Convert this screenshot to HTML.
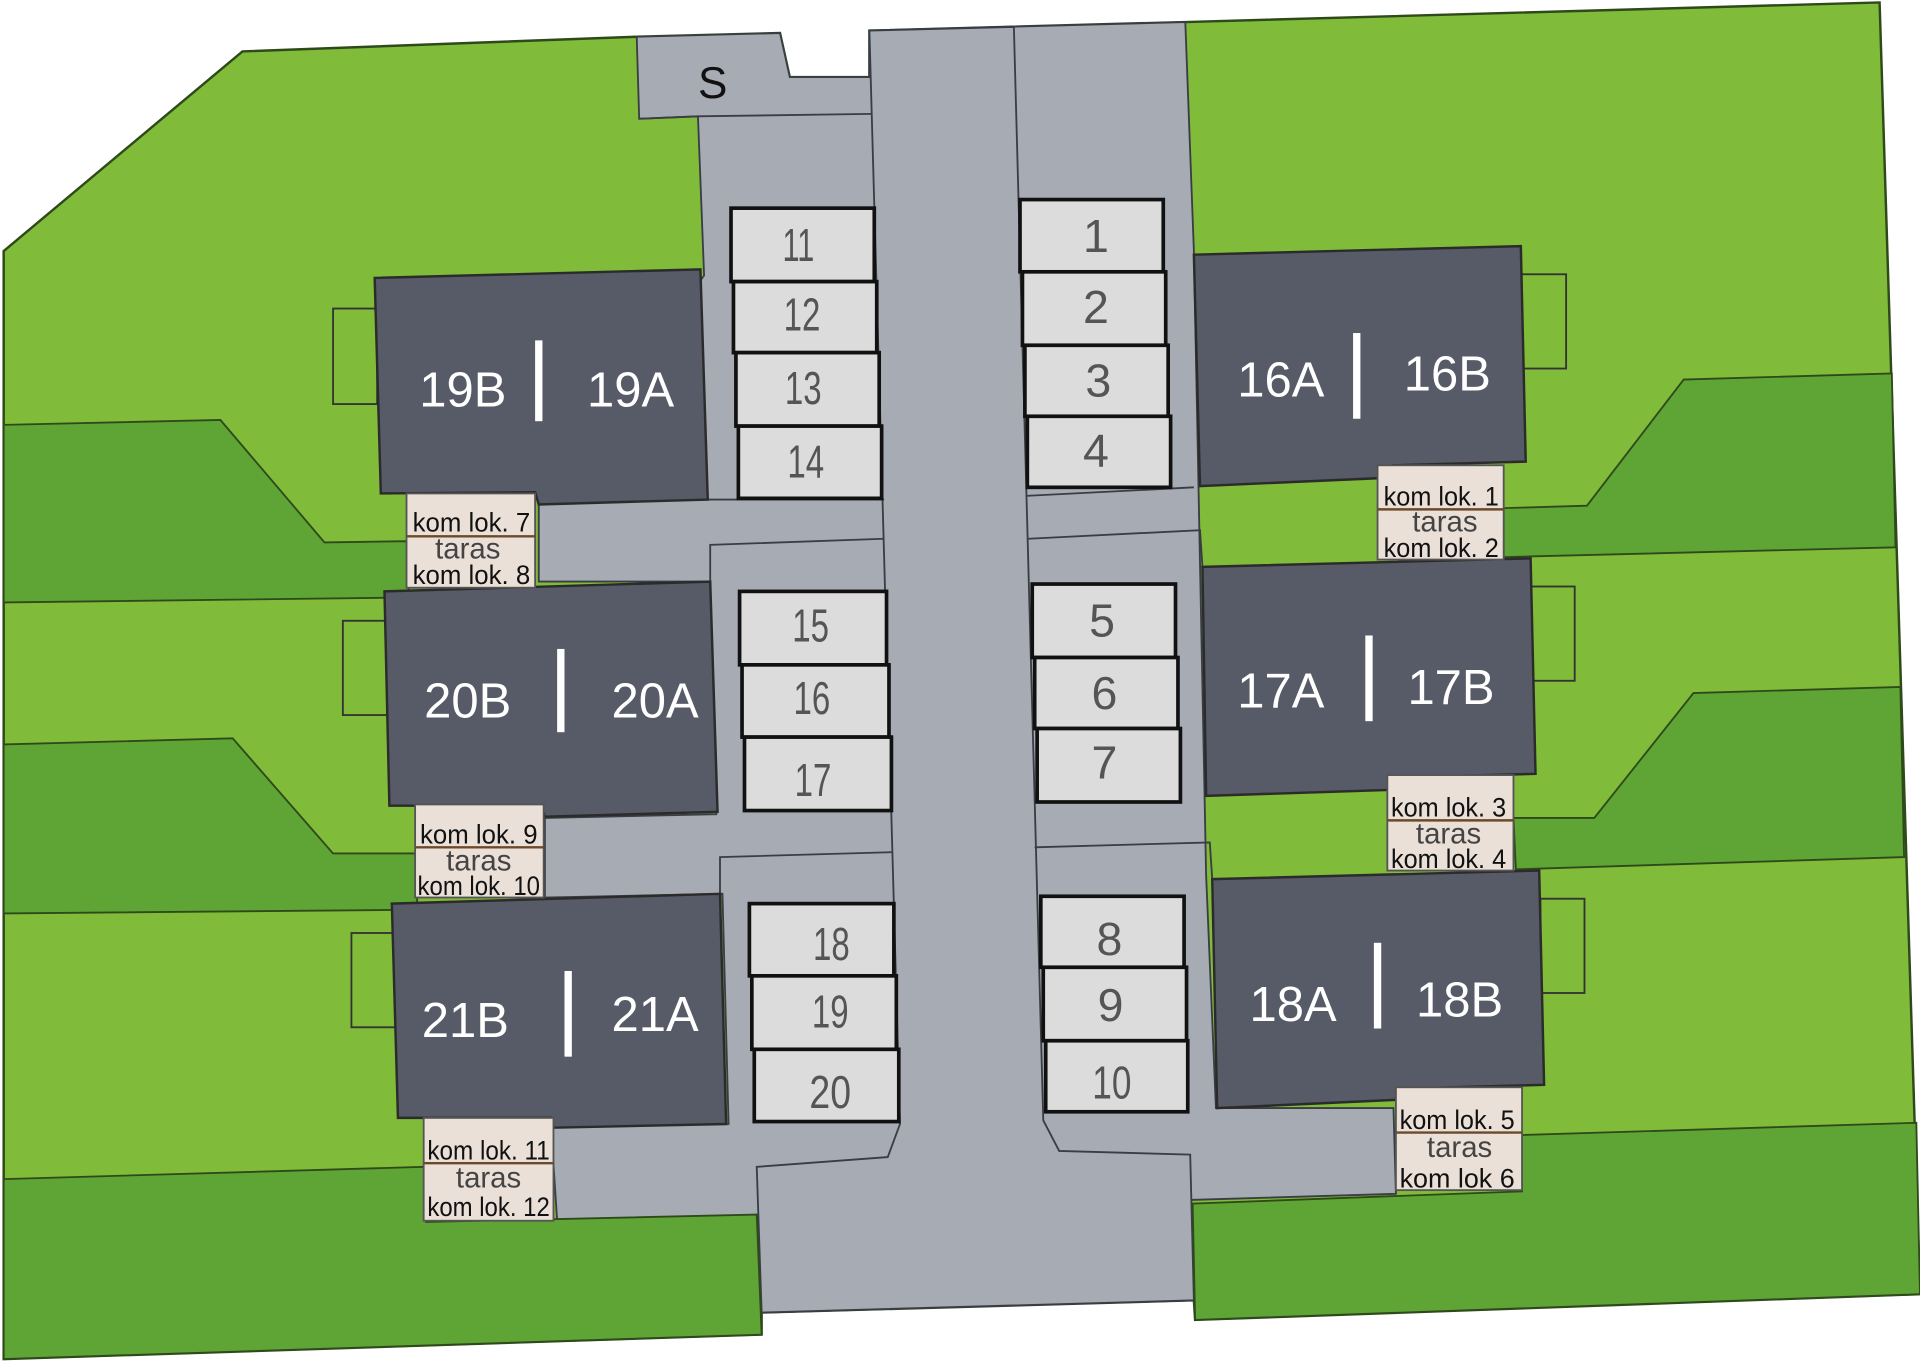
<!DOCTYPE html>
<html><head><meta charset="utf-8"><style>
html,body{margin:0;padding:0;background:#fff;}
svg{display:block;}
text{font-family:"Liberation Sans",sans-serif;}
.b{fill:#575a67;stroke:#2b2b2b;stroke-width:2}
.bl{fill:#fff;font-size:40px;text-anchor:middle}
.p{fill:#dcdcdc;stroke:#111;stroke-width:3}
.pn{fill:#555;font-size:38px;text-anchor:middle;font-family:"Liberation Sans Narrow","Liberation Sans",sans-serif}
.k{fill:#ebe0d8;stroke:#555;stroke-width:1.5}
.kt{fill:#111;font-size:22px;text-anchor:middle;font-family:"Liberation Sans Narrow","Liberation Sans",sans-serif}
.kt2{fill:#444;font-size:24px;text-anchor:middle;font-family:"Liberation Sans Narrow","Liberation Sans",sans-serif}
.kl{stroke:#6b4a2a;stroke-width:2}
.bal{fill:none;stroke:#333;stroke-width:1.5}
.dg{fill:#5fa535;stroke:#2e4a1a;stroke-width:1.5}
</style></head><body>
<svg width="1920" height="1364" viewBox="0 0 1568 1114" preserveAspectRatio="none" xmlns="http://www.w3.org/2000/svg">
<polygon points="3,205 198,42 520,30 637,27 645,63 710,63 710,25 968,18 1535,2 1568,1057 976,1078 975,1062 622,1072 622,1090 3,1110" fill="#80bb3a" stroke="#2e4a1a" stroke-width="2"/>
<polygon points="520,30 637,27 645,63 710,63 710,25 968,18 975,205 980,460 985,715 993,905 1138,905 1140,975 972,980 975,1062 622,1072 618,995 455,997 450,920 595,918 590,730 445,733 445,668 585,665 580,475 440,475 440,410 575,225 570,95 522,97" fill="#a6abb4" stroke="#3a3d44" stroke-width="1.5"/>
<polyline points="522,97 570,95 712,93" fill="none" stroke="#3a3d44" stroke-width="1.5"/>
<polygon points="710,25 828,22 852,915 865,940 972,943 975,1062 622,1072 618,953 725,945 735,918" fill="#a6abb4" stroke="#3a3d44" stroke-width="1.5"/>
<polyline points="580,475 580,445 722,440" fill="none" stroke="#3a3d44" stroke-width="1.5"/>
<polyline points="588,730 588,700 728,696" fill="none" stroke="#3a3d44" stroke-width="1.5"/>
<polyline points="840,440 980,433 982,463" fill="none" stroke="#3a3d44" stroke-width="1.5"/>
<polyline points="845,692 988,688 990,718" fill="none" stroke="#3a3d44" stroke-width="1.5"/>
<polyline points="838,405 975,398" fill="none" stroke="#3a3d44" stroke-width="1.5"/>
<polyline points="722,408 578,408" fill="none" stroke="#3a3d44" stroke-width="1.5"/>
<text x="582" y="80" font-size="36" fill="#111" text-anchor="middle">S</text>
<polygon class="dg" points="3,347 180,343 265,443 332,442 334,488 3,492"/>
<polygon class="dg" points="3,608 190,603 272,697 339,697 341,743 3,746"/>
<polygon class="dg" points="3,963 346,953 348,998 618,992 622,1090 3,1110"/>
<polygon class="dg" points="1228,415 1296,413 1375,310 1545,305 1548,447 1228,455"/>
<polygon class="dg" points="1236,668 1302,668 1383,566 1552,561 1555,700 1238,710"/>
<polygon class="dg" points="1243,927 1565,917 1568,1057 976,1078 974,983 1243,973"/>
<rect class="bal" x="272" y="252" width="36" height="78"/>
<rect class="bal" x="280" y="507" width="36" height="77"/>
<rect class="bal" x="287" y="762" width="36" height="77"/>
<rect class="bal" x="1242" y="224" width="37" height="77"/>
<rect class="bal" x="1250" y="479" width="36" height="77"/>
<rect class="bal" x="1258" y="734" width="36" height="77"/>
<polygon class="b" points="306,227 572,220 578,408 440,412 437,402 311,403"/>
<polygon class="b" points="314,483 580,475 586,663 445,667 442,658 318,658"/>
<polygon class="b" points="320,738 588,730 593,918 452,921 450,913 325,913"/>
<polygon class="b" points="975,208 1242,201 1246,377 1138,380 1138,390 980,397"/>
<polygon class="b" points="982,463 1250,456 1254,632 1140,635 1140,645 985,650"/>
<polygon class="b" points="990,718 1257,711 1261,886 1145,889 1145,898 994,905"/>
<text class="bl" x="378" y="332">19B</text><rect x="437" y="278" width="6" height="66" fill="#fff"/><text class="bl" x="515" y="332">19A</text>
<text class="bl" x="382" y="586">20B</text><rect x="455" y="530" width="6" height="68" fill="#fff"/><text class="bl" x="535" y="586">20A</text>
<text class="bl" x="380" y="847">21B</text><rect x="461" y="793" width="6" height="70" fill="#fff"/><text class="bl" x="535" y="842">21A</text>
<text class="bl" x="1046" y="324">16A</text><rect x="1105" y="272" width="6" height="70" fill="#fff"/><text class="bl" x="1182" y="319">16B</text>
<text class="bl" x="1046" y="578">17A</text><rect x="1115" y="519" width="6" height="70" fill="#fff"/><text class="bl" x="1185" y="575">17B</text>
<text class="bl" x="1056" y="834">18A</text><rect x="1122" y="770" width="6" height="70" fill="#fff"/><text class="bl" x="1192" y="830">18B</text>
<g>
<rect class="k" x="332" y="403" width="105" height="77"/><line class="kl" x1="332" y1="438" x2="437" y2="438"/><text class="kt" x="385" y="434" textLength="96" lengthAdjust="spacingAndGlyphs">kom lok. 7</text><text class="kt2" x="382" y="456">taras</text><text class="kt" x="385" y="477" textLength="96" lengthAdjust="spacingAndGlyphs">kom lok. 8</text>
<rect class="k" x="339" y="657" width="105" height="76"/><line class="kl" x1="339" y1="692" x2="444" y2="692"/><text class="kt" x="391" y="689" textLength="96" lengthAdjust="spacingAndGlyphs">kom lok. 9</text><text class="kt2" x="391" y="711">taras</text><text class="kt" x="391" y="731" textLength="100" lengthAdjust="spacingAndGlyphs">kom lok. 10</text>
<rect class="k" x="346" y="913" width="106" height="84"/><line class="kl" x1="346" y1="950" x2="452" y2="950"/><text class="kt" x="399" y="947" textLength="100" lengthAdjust="spacingAndGlyphs">kom lok. 11</text><text class="kt2" x="399" y="970">taras</text><text class="kt" x="399" y="993" textLength="100" lengthAdjust="spacingAndGlyphs">kom lok. 12</text>
<rect class="k" x="1125" y="380" width="103" height="77"/><line class="kl" x1="1125" y1="416" x2="1228" y2="416"/><text class="kt" x="1177" y="413" textLength="94" lengthAdjust="spacingAndGlyphs">kom lok. 1</text><text class="kt2" x="1180" y="434">taras</text><text class="kt" x="1177" y="455" textLength="94" lengthAdjust="spacingAndGlyphs">kom lok. 2</text>
<rect class="k" x="1133" y="633" width="103" height="78"/><line class="kl" x1="1133" y1="670" x2="1236" y2="670"/><text class="kt" x="1183" y="667" textLength="94" lengthAdjust="spacingAndGlyphs">kom lok. 3</text><text class="kt2" x="1183" y="689">taras</text><text class="kt" x="1183" y="709" textLength="94" lengthAdjust="spacingAndGlyphs">kom lok. 4</text>
<rect class="k" x="1140" y="888" width="103" height="84"/><line class="kl" x1="1140" y1="925" x2="1243" y2="925"/><text class="kt" x="1190" y="922" textLength="94" lengthAdjust="spacingAndGlyphs">kom lok. 5</text><text class="kt2" x="1192" y="945">taras</text><text class="kt" x="1190" y="970" textLength="94" lengthAdjust="spacingAndGlyphs">kom lok 6</text>
</g>
<g>
<rect class="p" x="597" y="170" width="117" height="60"/><text class="pn" x="652" y="213" textLength="26" lengthAdjust="spacingAndGlyphs">11</text>
<rect class="p" x="599" y="230" width="117" height="58"/><text class="pn" x="655" y="270" textLength="30" lengthAdjust="spacingAndGlyphs">12</text>
<rect class="p" x="601" y="288" width="117" height="60"/><text class="pn" x="656" y="330" textLength="30" lengthAdjust="spacingAndGlyphs">13</text>
<rect class="p" x="603" y="348" width="117" height="59"/><text class="pn" x="658" y="390" textLength="30" lengthAdjust="spacingAndGlyphs">14</text>
<rect class="p" x="604" y="483" width="120" height="60"/><text class="pn" x="662" y="524" textLength="30" lengthAdjust="spacingAndGlyphs">15</text>
<rect class="p" x="606" y="543" width="120" height="59"/><text class="pn" x="663" y="583" textLength="30" lengthAdjust="spacingAndGlyphs">16</text>
<rect class="p" x="608" y="602" width="120" height="60"/><text class="pn" x="664" y="650" textLength="30" lengthAdjust="spacingAndGlyphs">17</text>
<rect class="p" x="612" y="738" width="118" height="59"/><text class="pn" x="679" y="784" textLength="30" lengthAdjust="spacingAndGlyphs">18</text>
<rect class="p" x="614" y="797" width="118" height="60"/><text class="pn" x="678" y="839" textLength="30" lengthAdjust="spacingAndGlyphs">19</text>
<rect class="p" x="616" y="857" width="118" height="59"/><text class="pn" x="678" y="905" textLength="34" lengthAdjust="spacingAndGlyphs">20</text>
<rect class="p" x="833" y="163" width="117" height="59"/><text class="pn" x="895" y="206">1</text>
<rect class="p" x="835" y="222" width="117" height="60"/><text class="pn" x="895" y="264">2</text>
<rect class="p" x="837" y="282" width="117" height="58"/><text class="pn" x="897" y="324">3</text>
<rect class="p" x="839" y="340" width="117" height="58"/><text class="pn" x="895" y="381">4</text>
<rect class="p" x="843" y="477" width="117" height="60"/><text class="pn" x="900" y="520">5</text>
<rect class="p" x="845" y="537" width="117" height="58"/><text class="pn" x="902" y="579">6</text>
<rect class="p" x="847" y="595" width="117" height="60"/><text class="pn" x="902" y="636">7</text>
<rect class="p" x="850" y="732" width="117" height="58"/><text class="pn" x="906" y="780">8</text>
<rect class="p" x="852" y="790" width="117" height="60"/><text class="pn" x="907" y="834">9</text>
<rect class="p" x="854" y="850" width="116" height="58"/><text class="pn" x="908" y="897" textLength="32" lengthAdjust="spacingAndGlyphs">10</text>
</g>
</svg>
</body></html>
